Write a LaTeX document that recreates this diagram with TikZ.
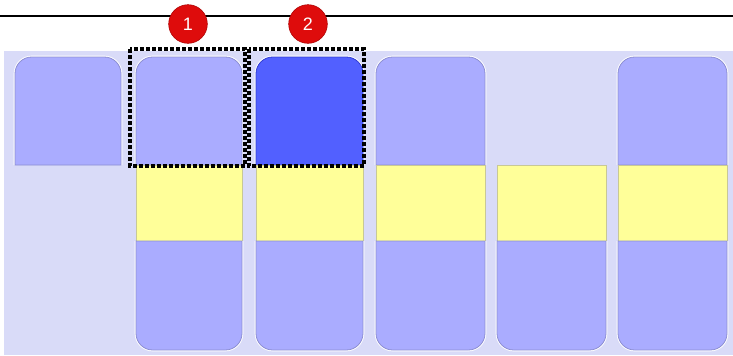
\documentclass[tikz,border=0pt]{standalone}
\usepackage{fontspec}
\setsansfont{Liberation Sans}
\definecolor{bgc}{RGB}{217,219,248}
\definecolor{tilec}{RGB}{170,172,255}
\definecolor{tileedge}{RGB}{140,142,210}
\definecolor{darkc}{RGB}{82,96,255}
\definecolor{darkedge}{RGB}{50,60,210}
\definecolor{yel}{RGB}{255,255,153}
\definecolor{yeledge}{RGB}{200,200,150}
\definecolor{redc}{RGB}{222,12,12}
\definecolor{rededge}{RGB}{170,0,0}
\tikzset{
  glow/.style={draw=white, line width=2pt},
  tile/.style={fill=tilec, draw=tileedge, line width=0.6pt},
  darktile/.style={fill=darkc, draw=darkedge, line width=0.6pt},
  band/.style={fill=yel, draw=yeledge, line width=0.5pt},
  selbox/.style={draw=black, line width=2.9pt, dash pattern=on 2.9pt off 1.6pt},
  badge/.style={circle, fill=redc, draw=rededge, line width=0.4pt, minimum size=29pt, inner sep=0pt,
     text=white, font=\sffamily\fontsize{13.5}{13.5}\selectfont}
}
\newcommand\toptile[3]{%
  \draw[glow] (#1,165) [rounded corners=12.5pt] -- (#1,57) -- (#2,57) [sharp corners] -- (#2,165);
  \draw[#3] (#1,165) [rounded corners=12.5pt] -- (#1,57) -- (#2,57) [sharp corners] -- (#2,165) -- cycle;}
\newcommand\bottile[2]{%
  \draw[glow] (#1,241) [rounded corners=12.5pt] -- (#1,350) -- (#2,350) [sharp corners] -- (#2,241);
  \draw[tile] (#1,241) [rounded corners=12.5pt] -- (#1,350) -- (#2,350) [sharp corners] -- (#2,241) -- cycle;}
\newcommand\yband[2]{%
  \draw[band] (#1,165) rectangle (#2,241);}
\begin{document}
\begin{tikzpicture}[x=0.75pt,y=-0.75pt]
\useasboundingbox (0,0) rectangle (733,355);
\fill[white] (0,0) rectangle (733,355);
\coordinate (lineL) at (0,16);
\coordinate (lineR) at (733,16);
\draw[line width=1.1pt] (lineL) -- (lineR);
\fill[bgc] (4,51) rectangle (733,355);
% top tiles
\toptile{15}{121}{tile}
\toptile{136}{242}{tile}
\toptile{256}{363}{darktile}
\toptile{376}{485}{tile}
\toptile{618}{727}{tile}
% yellow bands
\yband{136}{242}
\yband{256}{363}
\yband{376}{485}
\yband{497}{606}
\yband{618}{727}
% bottom tiles
\bottile{136}{242}
\bottile{256}{363}
\bottile{376}{485}
\bottile{497}{606}
\bottile{618}{727}
% selection boxes
\draw[selbox] (130,49) rectangle (245,166);
\draw[selbox] (249,49) rectangle (364,166);
% badges
\node[badge] (b1) at (188,24) {1};
\node[badge] (b2) at (308,24) {2};
\end{tikzpicture}
\end{document}
